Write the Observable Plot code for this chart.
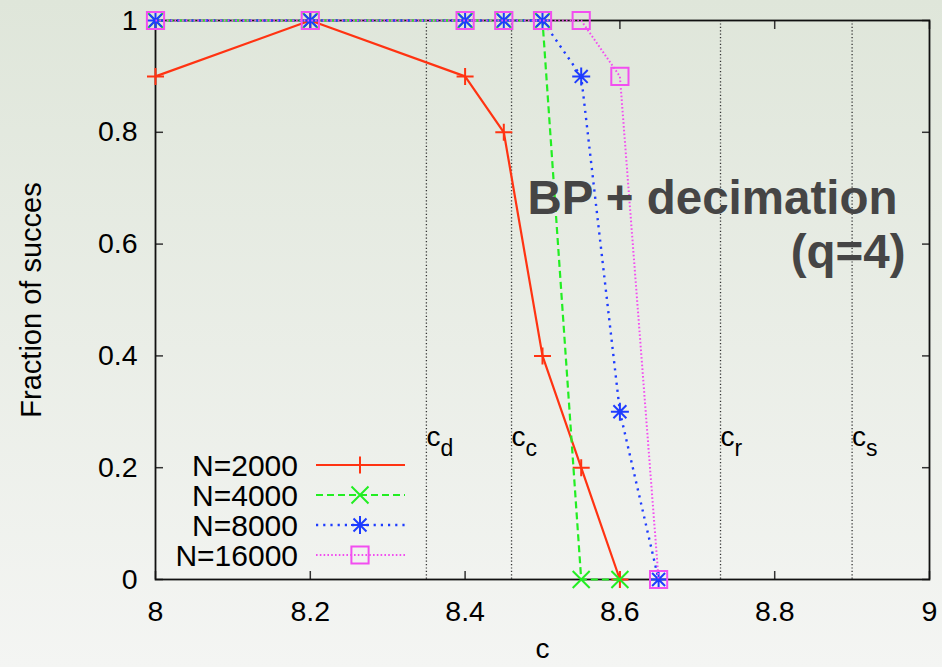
<!DOCTYPE html>
<html>
<head>
<meta charset="utf-8">
<script src="https://cdn.jsdelivr.net/npm/d3@7"></script>
<script src="https://cdn.jsdelivr.net/npm/@observablehq/plot@0.6"></script>
<style>
  html, body { margin: 0; padding: 0; }
  body { width: 942px; height: 667px; background: linear-gradient(to bottom, #dfe6da, #f4f5f3); overflow: hidden; }
</style>
</head>
<body>
<div id="chart"></div>
<script>
// ---- data ----
const cValues = [8, 8.2, 8.4, 8.45, 8.5, 8.55, 8.6, 8.65];
const n2000  = [0.9, 1, 0.9, 0.8, 0.4, 0.2, 0, null];
const n4000  = [1, 1, 1, 1, 1, 0, 0, null];
const n8000  = [1, 1, 1, 1, 1, 0.9, 0.3, 0];
const n16000 = [1, 1, 1, 1, 1, 1, 0.9, 0];
const seriesNames = ["N=2000", "N=4000", "N=8000", "N=16000"];

const thresholdValues = [8.35, 8.46, 8.73, 8.90];
const thresholdSubs = ["d", "c", "r", "s"];

const xTicks = [8, 8.2, 8.4, 8.6, 8.8, 9];
const xTickLabels = ["8", "8.2", "8.4", "8.6", "8.8", "9"];
const yTicks = [0, 0.2, 0.4, 0.6, 0.8, 1];
const yTickLabels = ["0", "0.2", "0.4", "0.6", "0.8", "1"];

const titleLines = ["BP + decimation", "(q=4)"];
const xLabel = "c";
const yLabel = "Fraction of succes";

// ---- symbols (gnuplot-like) ----
const symPlus = {draw(ctx, size) { const r = Math.sqrt(size / Math.PI);
  ctx.moveTo(-r, 0); ctx.lineTo(r, 0); ctx.moveTo(0, -r); ctx.lineTo(0, r); }};
const symTimes = {draw(ctx, size) { const r = Math.sqrt(size / Math.PI);
  ctx.moveTo(-r, -r); ctx.lineTo(r, r); ctx.moveTo(-r, r); ctx.lineTo(r, -r); }};
const symStar = {draw(ctx, size) { const r = Math.sqrt(size / Math.PI); const h = r * 0.72;
  ctx.moveTo(-r, 0); ctx.lineTo(r, 0); ctx.moveTo(0, -r); ctx.lineTo(0, r);
  ctx.moveTo(-h, -h); ctx.lineTo(h, h); ctx.moveTo(-h, h); ctx.lineTo(h, -h); }};
const symSquare = {draw(ctx, size) { const r = Math.sqrt(size / Math.PI);
  ctx.moveTo(-r, -r); ctx.lineTo(r, -r); ctx.lineTo(r, r); ctx.lineTo(-r, r); ctx.closePath(); }};

const styles = [
  {values: n2000,  color: "#ff3312", dash: null,      sym: symPlus,   r: 8.5, width: 2.2},
  {values: n4000,  color: "#22ee22", dash: "7,4",     sym: symTimes,  r: 8.5, width: 2.2},
  {values: n8000,  color: "#1e3cff", dash: "2.2,5",   sym: symStar,   r: 9,   width: 2.4},
  {values: n16000, color: "#f24ef0", dash: "1.6,2.2", sym: symSquare, r: 8.6, width: 2}
];

const series = styles.map((s, k) => ({
  ...s,
  name: seriesNames[k],
  data: cValues.map((c, i) => ({c, f: s.values[i]})).filter(d => d.f != null)
}));

const fontFamily = "'Liberation Sans', Arial, Helvetica, sans-serif";

const seriesMarks = series.flatMap(s => [
  Plot.line(s.data, {x: "c", y: "f", stroke: s.color, strokeWidth: s.width,
    strokeDasharray: s.dash || undefined, strokeLinecap: "butt"}),
  Plot.dot(s.data, {x: "c", y: "f", symbol: s.sym, r: s.r, fill: "none",
    stroke: s.color, strokeWidth: 2})
]);

// legend drawn as a render-function mark
function legendMark(index, scales, values, dimensions) {
  const g = d3.create("svg:g");
  const left = dimensions.marginLeft;
  const bottom = dimensions.height - dimensions.marginBottom;
  series.forEach((s, i) => {
    const cy = bottom - 114 + i * 30;
    g.append("text")
      .attr("x", left + 143).attr("y", cy).attr("dy", "0.36em")
      .attr("text-anchor", "end").attr("font-size", 30)
      .attr("font-family", fontFamily).attr("fill", "black").text(s.name);
    g.append("line")
      .attr("x1", left + 161).attr("x2", left + 250).attr("y1", cy).attr("y2", cy)
      .attr("stroke", s.color).attr("stroke-width", s.width)
      .attr("stroke-dasharray", s.dash);
    g.append("path")
      .attr("transform", `translate(${left + 205},${cy})`)
      .attr("d", d3.symbol(s.sym, s.r * s.r * Math.PI)())
      .attr("fill", "none").attr("stroke", s.color).attr("stroke-width", 2);
  });
  return g.node();
}

const chart = Plot.plot({
  width: 942,
  height: 667,
  marginLeft: 155,
  marginRight: 13,
  marginTop: 20,
  marginBottom: 88,
  style: {background: "transparent", fontFamily, overflow: "visible"},
  x: {domain: [8, 9]},
  y: {domain: [0, 1]},
  marks: [
    Plot.ruleX(thresholdValues, {x: d => d, stroke: "#333", strokeWidth: 1.3, strokeDasharray: "1.2,2.2"}),
    Plot.axisX({ticks: xTicks, tickSize: -8, tickPadding: 29, fontSize: 28.5, stroke: "#333", strokeWidth: 1.5,
      tickFormat: d => xTickLabels[xTicks.indexOf(d)], label: null}),
    Plot.axisX({anchor: "top", ticks: xTicks, tickSize: -8, stroke: "#333", strokeWidth: 1.5, tickFormat: () => "", label: null}),
    Plot.axisY({ticks: yTicks, tickSize: -8, tickPadding: 26, fontSize: 28.5, stroke: "#333", strokeWidth: 1.5,
      tickFormat: d => yTickLabels[yTicks.indexOf(d)], label: null}),
    Plot.axisY({anchor: "right", ticks: yTicks, tickSize: -8, stroke: "#333", strokeWidth: 1.5, tickFormat: () => "", label: null}),
    Plot.frame({stroke: "#111", strokeWidth: 1.8}),
    ...seriesMarks,
    Plot.text(thresholdValues, {x: d => d, frameAnchor: "top", dy: 425, dx: 0, lineAnchor: "bottom",
      textAnchor: "start", text: () => "c", fontSize: 28, fill: "black"}),
    Plot.text(thresholdValues, {x: d => d, frameAnchor: "top", dy: 435, dx: 14, lineAnchor: "bottom",
      textAnchor: "start", text: (d, i) => thresholdSubs[i], fontSize: 23, fill: "black"}),
    Plot.text([titleLines[0]], {frameAnchor: "top-right", dx: -32, dy: 193, lineAnchor: "bottom",
      textAnchor: "end", fontSize: 47.5, fontWeight: "bold", fill: "#454545"}),
    Plot.text([titleLines[1]], {frameAnchor: "top-right", dx: -24, dy: 247, lineAnchor: "bottom",
      textAnchor: "end", fontSize: 47.5, fontWeight: "bold", fill: "#454545"}),
    Plot.text([yLabel], {frameAnchor: "left", dx: -124, rotate: -90, lineAnchor: "middle",
      textAnchor: "middle", fontSize: 29, fill: "black"}),
    Plot.text([xLabel], {frameAnchor: "bottom", dy: 78, lineAnchor: "bottom",
      textAnchor: "middle", fontSize: 28, fill: "black"}),
    legendMark
  ]
});
document.getElementById("chart").appendChild(chart);
</script>
</body>
</html>
